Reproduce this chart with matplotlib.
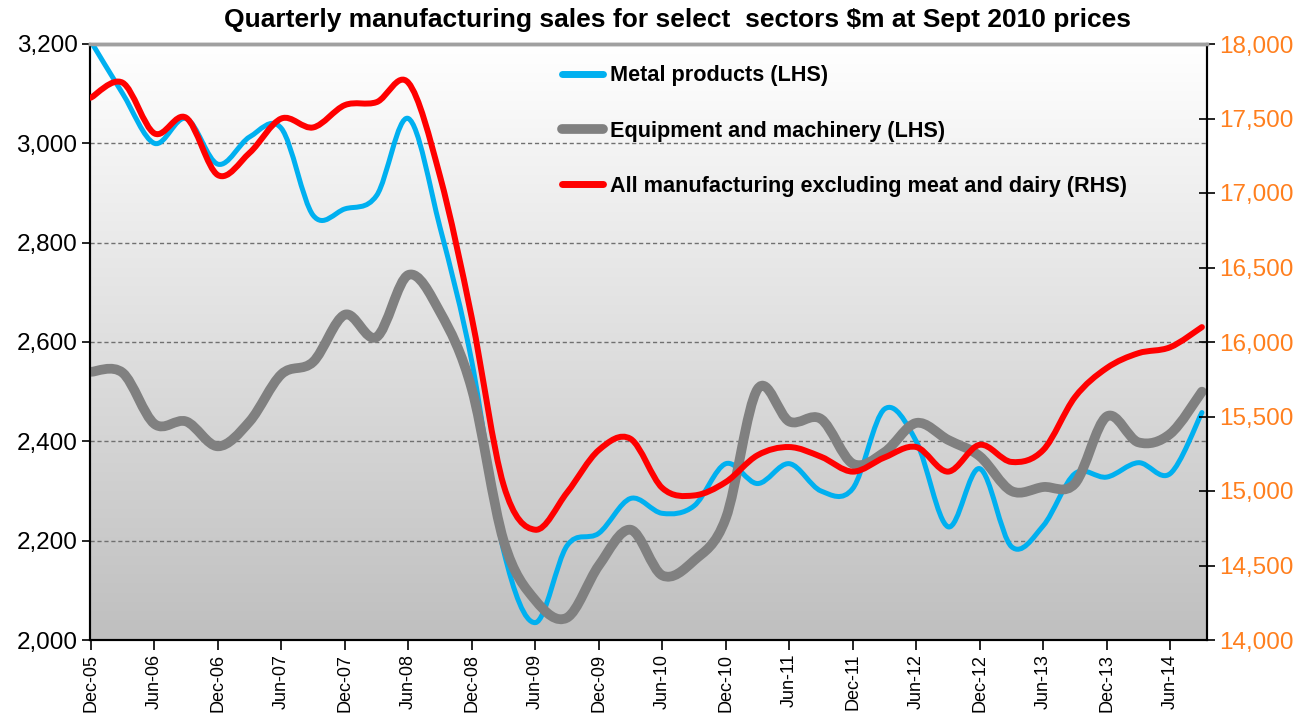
import numpy as np
import matplotlib.pyplot as plt
from matplotlib.path import Path
from matplotlib.patches import PathPatch
from matplotlib.lines import Line2D
from matplotlib.colors import LinearSegmentedColormap

plt.rcParams['font.family'] = ['Liberation Sans', 'DejaVu Sans']

# Quarterly data, Dec-05 to Sep-14
quarters = ['Dec-05', 'Mar-06', 'Jun-06', 'Sep-06', 'Dec-06', 'Mar-07', 'Jun-07', 'Sep-07',
            'Dec-07', 'Mar-08', 'Jun-08', 'Sep-08', 'Dec-08', 'Mar-09', 'Jun-09', 'Sep-09',
            'Dec-09', 'Mar-10', 'Jun-10', 'Sep-10', 'Dec-10', 'Mar-11', 'Jun-11', 'Sep-11',
            'Dec-11', 'Mar-12', 'Jun-12', 'Sep-12', 'Dec-12', 'Mar-13', 'Jun-13', 'Sep-13',
            'Dec-13', 'Mar-14', 'Jun-14', 'Sep-14']

metal = [3205, 3100, 3000, 3050, 2958, 3013, 3030, 2855, 2868, 2895, 3050, 2830,
         2560, 2180, 2035, 2190, 2215, 2285, 2255, 2270, 2355, 2315, 2355, 2300,
         2305, 2465, 2400, 2228, 2345, 2188, 2230, 2335, 2328, 2357, 2335, 2458]

equipment = [2540, 2538, 2435, 2440, 2390, 2440, 2535, 2560, 2655, 2610, 2735, 2660,
             2505, 2200, 2080, 2045, 2150, 2222, 2130, 2160, 2245, 2505, 2440, 2445,
             2355, 2378, 2437, 2403, 2370, 2300, 2308, 2315, 2450, 2398, 2415, 2500]

all_mfg = [17640, 17740, 17400, 17505, 17120, 17270, 17500, 17440, 17590, 17610, 17740, 17110,
           16160, 15040, 14740, 14990, 15275, 15350, 15020, 14970, 15060, 15240, 15295, 15230,
           15130, 15225, 15295, 15130, 15310, 15195, 15275, 15630, 15825, 15925, 15965, 16100]

left_ticks = [2000, 2200, 2400, 2600, 2800, 3000, 3200]
right_ticks = [14000, 14500, 15000, 15500, 16000, 16500, 17000, 17500, 18000]


def smooth_path(xs, ys):
    # Catmull-Rom style smoothing, like Excel's "smoothed line"
    pts = np.column_stack([np.asarray(xs, float), np.asarray(ys, float)])
    ext = np.vstack([pts[0], pts, pts[-1]])
    verts = [pts[0]]
    codes = [Path.MOVETO]
    for i in range(len(pts) - 1):
        p0, p1, p2, p3 = ext[i], ext[i + 1], ext[i + 2], ext[i + 3]
        verts += [p1 + (p2 - p0) / 6.0, p2 - (p3 - p1) / 6.0, p2]
        codes += [Path.CURVE4] * 3
    return Path(verts, codes)


x = np.arange(len(quarters))

fig = plt.figure(figsize=(13.01, 7.23), dpi=100)
ax1 = fig.add_axes([90 / 1301, 1 - 640 / 723, (1207 - 90) / 1301, (640 - 44) / 723])
ax2 = ax1.twinx()

# gradient background inside the plot area
grad = np.linspace(1, 0, 256).reshape(-1, 1)
ax1.imshow(grad, extent=[0, 1, 0, 1], transform=ax1.transAxes, aspect='auto',
           cmap=LinearSegmentedColormap.from_list('g', ['#bfbfbf', '#ffffff']), zorder=0)

blue = '#00b0f0'
grey = '#808080'
red = '#ff0000'
orange = '#ff7f1e'

ax1.add_patch(PathPatch(smooth_path(x, metal), fill=False, edgecolor=blue, lw=3.6,
                        capstyle='round', joinstyle='round', zorder=3))
ax1.add_patch(PathPatch(smooth_path(x, equipment), fill=False, edgecolor=grey, lw=7,
                        capstyle='round', joinstyle='round', zorder=4))
ax2.add_patch(PathPatch(smooth_path(x, all_mfg), fill=False, edgecolor=red, lw=4.3,
                        capstyle='round', joinstyle='round', zorder=5))

ax1.set_xlim(-0.03, 35.16)
ax1.set_ylim(2000, 3200)
ax2.set_ylim(14000, 18000)

ax1.set_yticks(left_ticks)
ax1.set_yticklabels([f'{v:,}' for v in left_ticks], fontsize=17.5)
ax2.set_yticks(right_ticks)
ax2.set_yticklabels([f'{v:,}' for v in right_ticks], fontsize=17.5, color=orange)

ax1.set_xticks(x[::2])
ax1.set_xticklabels(quarters[::2], rotation=90, fontsize=13)

ax1.yaxis.grid(True, linestyle=(0, (3, 2)), color='#707070', lw=1)
for line in ax1.get_ygridlines():
    line.set_zorder(1)

ax1.tick_params(axis='y', direction='out', length=6, width=1.2, pad=3)
ax1.tick_params(axis='x', direction='out', length=7, width=1.2, pad=3)
ax2.tick_params(axis='y', direction='inout', length=12, width=1.2, pad=3)

for ax in (ax1, ax2):
    ax.spines['top'].set_color('#a0a0a0')
    ax.spines['top'].set_linewidth(2.5)
    ax.spines['left'].set_linewidth(1.5)
    ax.spines['right'].set_linewidth(1.5)
    ax.spines['bottom'].set_linewidth(1.5)

handles = [Line2D([], [], color=blue, lw=5, solid_capstyle='round'),
           Line2D([], [], color=grey, lw=7, solid_capstyle='round'),
           Line2D([], [], color=red, lw=5, solid_capstyle='round')]
labels = ['Metal products (LHS)', 'Equipment and machinery (LHS)',
          'All manufacturing excluding meat and dairy (RHS)']
ax2.legend(handles, labels, loc='upper left', bbox_to_anchor=(0.405, 0.997),
           frameon=False, handlelength=1.9, handletextpad=0.3,
           labelspacing=1.58, prop={'weight': 'bold', 'size': 15.6})

fig.text(0.5204, 0.972, 'Quarterly manufacturing sales for select  sectors $m at Sept 2010 prices',
         ha='center', va='center', fontsize=19, fontweight='bold')

fig.savefig('out.png', dpi=100)
